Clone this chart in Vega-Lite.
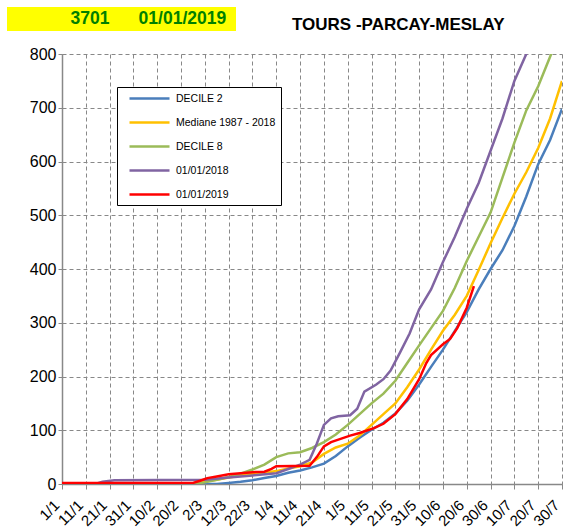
{
  "$schema": "https://vega.github.io/schema/vega-lite/v6.json",
  "width": 500,
  "height": 430,
  "autosize": "none",
  "padding": {"left": 62, "top": 54, "right": 3, "bottom": 47},
  "background": "white",
  "title": {"text": "TOURS -PARCAY-MESLAY", "anchor": "start", "frame": "group", "dx": 230, "offset": -40, "baseline": "alphabetic", "font": "Liberation Sans", "fontSize": 17, "fontWeight": "bold", "color": "black"},
  "config": {"font": "Liberation Sans", "view": {"stroke": null}},
  "datasets": {
    "courbes": [
      {"serie":"DECILE 2","jour":0,"valeur":0},{"serie":"DECILE 2","jour":65,"valeur":0},{"serie":"DECILE 2","jour":70,"valeur":2},{"serie":"DECILE 2","jour":75,"valeur":4},{"serie":"DECILE 2","jour":80,"valeur":7},{"serie":"DECILE 2","jour":85,"valeur":11},{"serie":"DECILE 2","jour":90,"valeur":15},{"serie":"DECILE 2","jour":95,"valeur":21},{"serie":"DECILE 2","jour":100,"valeur":25},{"serie":"DECILE 2","jour":105,"valeur":31},{"serie":"DECILE 2","jour":110,"valeur":38},{"serie":"DECILE 2","jour":115,"valeur":52},{"serie":"DECILE 2","jour":120,"valeur":70},{"serie":"DECILE 2","jour":125,"valeur":86},{"serie":"DECILE 2","jour":130,"valeur":101},{"serie":"DECILE 2","jour":135,"valeur":114},{"serie":"DECILE 2","jour":140,"valeur":131},{"serie":"DECILE 2","jour":145,"valeur":155},{"serie":"DECILE 2","jour":150,"valeur":185},{"serie":"DECILE 2","jour":155,"valeur":218},{"serie":"DECILE 2","jour":160,"valeur":250},{"serie":"DECILE 2","jour":165,"valeur":285},{"serie":"DECILE 2","jour":170,"valeur":320},{"serie":"DECILE 2","jour":175,"valeur":362},{"serie":"DECILE 2","jour":180,"valeur":400},{"serie":"DECILE 2","jour":185,"valeur":435},{"serie":"DECILE 2","jour":190,"valeur":480},{"serie":"DECILE 2","jour":195,"valeur":535},{"serie":"DECILE 2","jour":200,"valeur":595},{"serie":"DECILE 2","jour":205,"valeur":640},{"serie":"DECILE 2","jour":210,"valeur":698},
      {"serie":"Mediane 1987 - 2018","jour":0,"valeur":0},{"serie":"Mediane 1987 - 2018","jour":55,"valeur":0},{"serie":"Mediane 1987 - 2018","jour":58,"valeur":3},{"serie":"Mediane 1987 - 2018","jour":62,"valeur":6},{"serie":"Mediane 1987 - 2018","jour":65,"valeur":8},{"serie":"Mediane 1987 - 2018","jour":70,"valeur":12},{"serie":"Mediane 1987 - 2018","jour":75,"valeur":16},{"serie":"Mediane 1987 - 2018","jour":80,"valeur":19},{"serie":"Mediane 1987 - 2018","jour":85,"valeur":21},{"serie":"Mediane 1987 - 2018","jour":90,"valeur":24},{"serie":"Mediane 1987 - 2018","jour":95,"valeur":29},{"serie":"Mediane 1987 - 2018","jour":100,"valeur":33},{"serie":"Mediane 1987 - 2018","jour":105,"valeur":40},{"serie":"Mediane 1987 - 2018","jour":110,"valeur":56},{"serie":"Mediane 1987 - 2018","jour":115,"valeur":68},{"serie":"Mediane 1987 - 2018","jour":120,"valeur":75},{"serie":"Mediane 1987 - 2018","jour":125,"valeur":90},{"serie":"Mediane 1987 - 2018","jour":130,"valeur":110},{"serie":"Mediane 1987 - 2018","jour":135,"valeur":130},{"serie":"Mediane 1987 - 2018","jour":140,"valeur":150},{"serie":"Mediane 1987 - 2018","jour":145,"valeur":180},{"serie":"Mediane 1987 - 2018","jour":150,"valeur":213},{"serie":"Mediane 1987 - 2018","jour":155,"valeur":250},{"serie":"Mediane 1987 - 2018","jour":160,"valeur":285},{"serie":"Mediane 1987 - 2018","jour":165,"valeur":315},{"serie":"Mediane 1987 - 2018","jour":170,"valeur":350},{"serie":"Mediane 1987 - 2018","jour":175,"valeur":398},{"serie":"Mediane 1987 - 2018","jour":180,"valeur":448},{"serie":"Mediane 1987 - 2018","jour":185,"valeur":495},{"serie":"Mediane 1987 - 2018","jour":190,"valeur":540},{"serie":"Mediane 1987 - 2018","jour":195,"valeur":580},{"serie":"Mediane 1987 - 2018","jour":200,"valeur":625},{"serie":"Mediane 1987 - 2018","jour":205,"valeur":680},{"serie":"Mediane 1987 - 2018","jour":210,"valeur":750},
      {"serie":"DECILE 8","jour":0,"valeur":0},{"serie":"DECILE 8","jour":55,"valeur":0},{"serie":"DECILE 8","jour":60,"valeur":3},{"serie":"DECILE 8","jour":65,"valeur":8},{"serie":"DECILE 8","jour":70,"valeur":13},{"serie":"DECILE 8","jour":75,"valeur":19},{"serie":"DECILE 8","jour":80,"valeur":27},{"serie":"DECILE 8","jour":85,"valeur":36},{"serie":"DECILE 8","jour":90,"valeur":50},{"serie":"DECILE 8","jour":95,"valeur":57},{"serie":"DECILE 8","jour":100,"valeur":59},{"serie":"DECILE 8","jour":105,"valeur":67},{"serie":"DECILE 8","jour":110,"valeur":78},{"serie":"DECILE 8","jour":115,"valeur":92},{"serie":"DECILE 8","jour":120,"valeur":110},{"serie":"DECILE 8","jour":125,"valeur":130},{"serie":"DECILE 8","jour":130,"valeur":150},{"serie":"DECILE 8","jour":135,"valeur":168},{"serie":"DECILE 8","jour":140,"valeur":192},{"serie":"DECILE 8","jour":145,"valeur":225},{"serie":"DECILE 8","jour":150,"valeur":258},{"serie":"DECILE 8","jour":155,"valeur":290},{"serie":"DECILE 8","jour":160,"valeur":322},{"serie":"DECILE 8","jour":165,"valeur":365},{"serie":"DECILE 8","jour":170,"valeur":415},{"serie":"DECILE 8","jour":175,"valeur":460},{"serie":"DECILE 8","jour":180,"valeur":505},{"serie":"DECILE 8","jour":185,"valeur":570},{"serie":"DECILE 8","jour":190,"valeur":635},{"serie":"DECILE 8","jour":195,"valeur":695},{"serie":"DECILE 8","jour":200,"valeur":740},{"serie":"DECILE 8","jour":205,"valeur":795},{"serie":"DECILE 8","jour":210,"valeur":850},
      {"serie":"01/01/2018","jour":0,"valeur":0},{"serie":"01/01/2018","jour":14,"valeur":0},{"serie":"01/01/2018","jour":17,"valeur":4},{"serie":"01/01/2018","jour":22,"valeur":7},{"serie":"01/01/2018","jour":60,"valeur":8},{"serie":"01/01/2018","jour":70,"valeur":12},{"serie":"01/01/2018","jour":80,"valeur":16},{"serie":"01/01/2018","jour":90,"valeur":20},{"serie":"01/01/2018","jour":95,"valeur":28},{"serie":"01/01/2018","jour":100,"valeur":36},{"serie":"01/01/2018","jour":104,"valeur":45},{"serie":"01/01/2018","jour":107,"valeur":75},{"serie":"01/01/2018","jour":110,"valeur":110},{"serie":"01/01/2018","jour":113,"valeur":122},{"serie":"01/01/2018","jour":116,"valeur":126},{"serie":"01/01/2018","jour":121,"valeur":128},{"serie":"01/01/2018","jour":124,"valeur":140},{"serie":"01/01/2018","jour":127,"valeur":172},{"serie":"01/01/2018","jour":132,"valeur":185},{"serie":"01/01/2018","jour":135,"valeur":195},{"serie":"01/01/2018","jour":138,"valeur":211},{"serie":"01/01/2018","jour":142,"valeur":245},{"serie":"01/01/2018","jour":146,"valeur":280},{"serie":"01/01/2018","jour":150,"valeur":325},{"serie":"01/01/2018","jour":155,"valeur":362},{"serie":"01/01/2018","jour":160,"valeur":413},{"serie":"01/01/2018","jour":165,"valeur":460},{"serie":"01/01/2018","jour":170,"valeur":512},{"serie":"01/01/2018","jour":175,"valeur":560},{"serie":"01/01/2018","jour":180,"valeur":620},{"serie":"01/01/2018","jour":185,"valeur":680},{"serie":"01/01/2018","jour":190,"valeur":750},{"serie":"01/01/2018","jour":195,"valeur":800},{"serie":"01/01/2018","jour":200,"valeur":860},
      {"serie":"01/01/2019","jour":0,"valeur":2},{"serie":"01/01/2019","jour":55,"valeur":2},{"serie":"01/01/2019","jour":58,"valeur":6},{"serie":"01/01/2019","jour":61,"valeur":11},{"serie":"01/01/2019","jour":65,"valeur":14},{"serie":"01/01/2019","jour":70,"valeur":18},{"serie":"01/01/2019","jour":75,"valeur":20},{"serie":"01/01/2019","jour":80,"valeur":22},{"serie":"01/01/2019","jour":85,"valeur":23},{"serie":"01/01/2019","jour":88,"valeur":28},{"serie":"01/01/2019","jour":90,"valeur":33},{"serie":"01/01/2019","jour":104,"valeur":34},{"serie":"01/01/2019","jour":107,"valeur":50},{"serie":"01/01/2019","jour":110,"valeur":70},{"serie":"01/01/2019","jour":113,"valeur":78},{"serie":"01/01/2019","jour":117,"valeur":84},{"serie":"01/01/2019","jour":121,"valeur":90},{"serie":"01/01/2019","jour":125,"valeur":95},{"serie":"01/01/2019","jour":131,"valeur":104},{"serie":"01/01/2019","jour":135,"valeur":112},{"serie":"01/01/2019","jour":140,"valeur":130},{"serie":"01/01/2019","jour":145,"valeur":158},{"serie":"01/01/2019","jour":150,"valeur":195},{"serie":"01/01/2019","jour":153,"valeur":225},{"serie":"01/01/2019","jour":155,"valeur":240},{"serie":"01/01/2019","jour":160,"valeur":260},{"serie":"01/01/2019","jour":163,"valeur":270},{"serie":"01/01/2019","jour":166,"valeur":290},{"serie":"01/01/2019","jour":170,"valeur":328},{"serie":"01/01/2019","jour":173,"valeur":368}
    ],
    "entete": [{"station": "3701\u00a0\u00a0\u00a0\u00a0\u00a0\u00a001/01/2019"}]
  },
  "layer": [
    {
      "data": {"name": "courbes"},
      "mark": {"type": "line", "clip": true},
      "encoding": {
        "x": {"field": "jour", "type": "quantitative",
          "scale": {"domain": [0, 210], "nice": false, "zero": false},
          "axis": {"title": null, "values": [0,10,20,30,40,50,60,70,80,90,100,110,120,130,140,150,160,170,180,190,200,210],
            "labelExpr": "timeFormat(datetime(2019, 0, 1 + datum.value), '%-d/%-m')",
            "labelAngle": -45, "labelAlign": "right", "labelBaseline": "bottom", "labelFont": "Liberation Sans", "labelFontSize": 15, "labelColor": "black",
            "labelPadding": 19, "labelOverlap": false, "labelFlush": false, "labelBound": false,
            "tickSize": 5, "tickColor": "#888888", "domainColor": "#888888", "domainWidth": 1.5,
            "grid": true, "gridColor": "#888888", "gridDash": [4, 3], "gridWidth": 1}},
        "y": {"field": "valeur", "type": "quantitative",
          "scale": {"domain": [0, 800], "nice": false},
          "axis": {"title": null, "values": [0,100,200,300,400,500,600,700,800],
            "labelFont": "Liberation Sans", "labelFontSize": 16, "labelColor": "black", "labelPadding": 2,
            "tickSize": 4, "tickColor": "#888888", "domainColor": "#888888", "domainWidth": 1.5,
            "grid": true, "gridColor": "#888888", "gridDash": [4, 3], "gridWidth": 1}},
        "color": {"field": "serie", "type": "nominal",
          "scale": {"domain": ["DECILE 2", "Mediane 1987 - 2018", "DECILE 8", "01/01/2018", "01/01/2019"], "range": ["#4a7ebb", "#ffc000", "#9bbb59", "#8064a2", "#ff0000"]},
          "legend": {"title": null, "orient": "none", "legendX": 55, "legendY": 33, "symbolType": "M-4,0L4,0", "symbolSize": 100, "symbolStrokeWidth": 2,
            "labelFont": "Liberation Sans", "labelFontSize": 10.5, "labelColor": "black", "labelOffset": 20, "labelLimit": 300,
            "labelExpr": "datum.label + '\u00a0\u00a0\u00a0\u00a0'",
            "strokeColor": "black", "fillColor": "white", "padding": 5, "rowPadding": 12, "symbolOffset": 21}},
        "strokeWidth": {"field": "serie", "type": "nominal",
          "scale": {"domain": ["DECILE 2", "Mediane 1987 - 2018", "DECILE 8", "01/01/2018", "01/01/2019"], "range": [2.5, 2.5, 2.5, 2.5, 4.5]},
          "legend": null}
      }
    },
    {
      "data": {"name": "entete"},
      "mark": {"type": "point", "opacity": 0},
      "encoding": {
        "shape": {"field": "station", "type": "nominal",
          "legend": {"title": "\u00a0", "titleOrient": "right", "titleFontSize": 10, "titlePadding": 7,
            "orient": "none", "legendX": -55, "legendY": -47, "fillColor": "#ffff00", "padding": 3,
            "symbolSize": 0, "symbolOpacity": 0, "labelOffset": 43, "labelFont": "Liberation Sans", "labelFontSize": 17.5, "labelFontWeight": "bold", "labelColor": "#008000", "labelLimit": 400}}
      }
    }
  ]
}
